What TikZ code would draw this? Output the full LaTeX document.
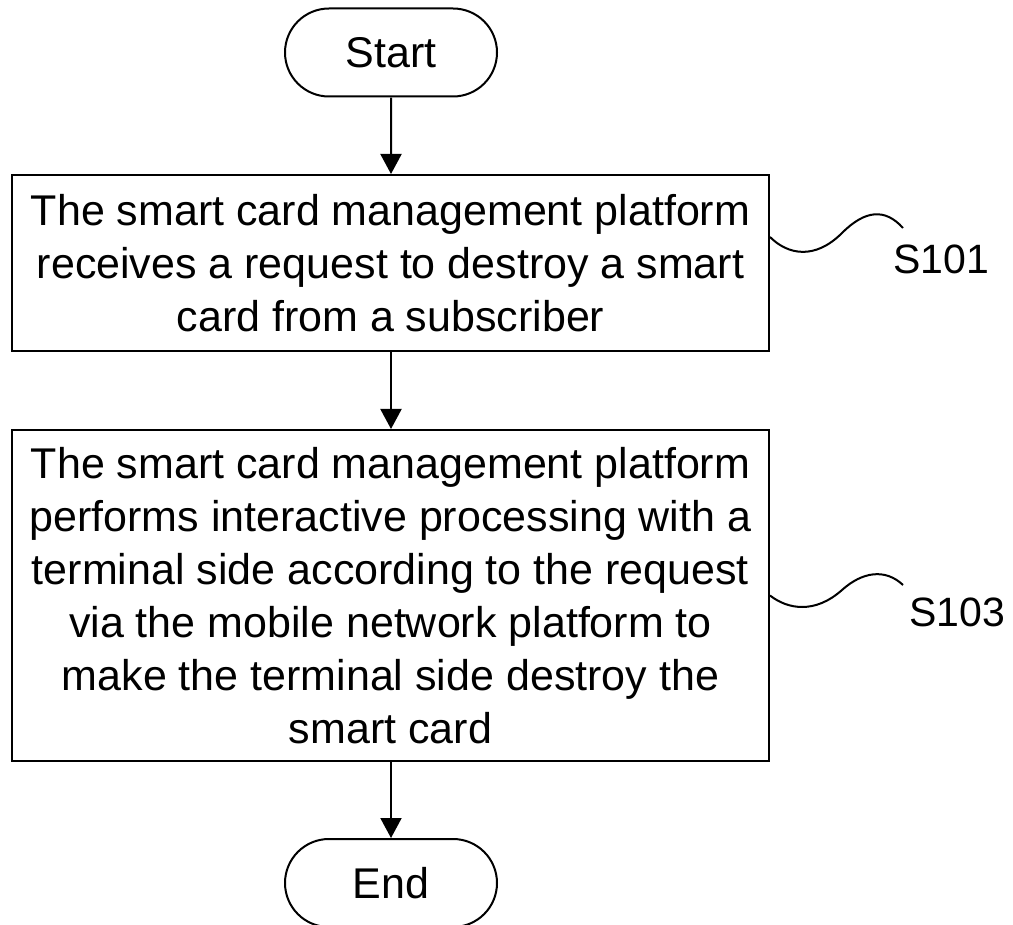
\documentclass[tikz,border=0pt]{standalone}
\usepackage{fontspec}
\setmainfont{Liberation Sans}
\usetikzlibrary{shapes.misc,arrows.meta}
\begin{document}
\begin{tikzpicture}[x=1pt,y=-1pt,
  term/.style={rounded rectangle, draw, line width=2pt, minimum width=212pt, minimum height=88pt, inner sep=0pt, font=\fontsize{43}{53}\selectfont},
  proc/.style={rectangle, draw, line width=2pt, minimum width=757pt, align=center, inner sep=0pt, font=\fontsize{43}{53}\selectfont},
  arr/.style={line width=2pt, -{Triangle[length=20pt,width=21pt]}},
  wave/.style={line width=2pt},
  lab/.style={inner sep=0pt, font=\fontsize{41}{49}\selectfont}]
\useasboundingbox (0,0) rectangle (1013,925);
\node[term] (start) at (391,52.5) {Start};
\node[proc, minimum height=176pt] (b1) at (390.5,263) {The smart card management platform\\receives a request to destroy a smart\\card from a subscriber};
\node[proc, minimum height=331pt] (b2) at (390.5,595.5) {The smart card management platform\\performs interactive processing with a\\terminal side according to the request\\via the mobile network platform to\\make the terminal side destroy the\\smart card};
\node[term] (end) at (391,883) {End};
\node[lab] (l1) at (941.5,259) {S101};
\node[lab] (l2) at (957.5,612) {S103};
\draw[arr] (start) -- (start |- b1.north);
\draw[arr] (b1.south -| start) -- (start |- b2.north);
\draw[arr] (b2.south -| start) -- (end);
\coordinate (w1s) at ([yshift=26pt]b1.east);
\coordinate (w1e) at (903,228);
\coordinate (w2e) at (903,585);
\draw[wave] (w1s) .. controls ++(18,18) and (815,260) .. (842,233) .. controls (865,210) and (885,208) .. (w1e);
\draw[wave] (b2.east) .. controls ++(18,14) and (815,614) .. (842,590) .. controls (862,572) and (885,568) .. (w2e);
\end{tikzpicture}
\end{document}
